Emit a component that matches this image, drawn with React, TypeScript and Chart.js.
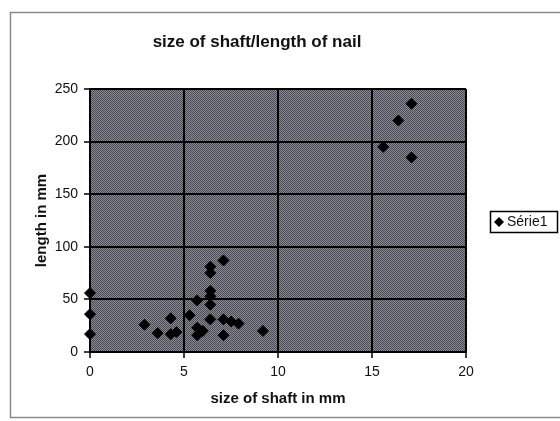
import { useEffect, useRef } from "react";
import { Chart, registerables } from "chart.js";

Chart.register(...registerables);

// Shaft diameter (mm) and nail length (mm) for each measured nail
const shaftSize = [0, 0, 0, 2.9, 3.6, 4.3, 4.3, 4.6, 5.3, 5.7, 5.7, 5.7, 6.0, 6.4, 6.4, 6.4, 6.4, 6.4, 6.4, 7.1, 7.1, 7.1, 7.5, 7.9, 9.2, 15.6, 16.4, 17.1, 17.1];
const nailLength = [56, 36, 17, 26, 18, 32, 17, 19, 35, 49, 23, 16, 20, 81, 75, 58, 53, 45, 31, 87, 31, 16, 29, 27, 20, 195, 220, 236, 185];

const seriesName = "Série1";
const chartTitle = "size of shaft/length of nail";
const xTitle = "size of shaft in mm";
const yTitle = "length in mm";

const FONT = '"Liberation Sans", Arial, Helvetica, sans-serif';

function ditherPattern(ctx: CanvasRenderingContext2D) {
  const tile = document.createElement("canvas");
  tile.width = 2;
  tile.height = 2;
  const t = tile.getContext("2d")!;
  t.fillStyle = "rgb(138,138,150)";
  t.fillRect(0, 0, 2, 2);
  t.fillStyle = "rgb(74,74,84)";
  t.fillRect(0, 0, 1, 1);
  t.fillRect(1, 1, 1, 1);
  return ctx.createPattern(tile, "repeat")!;
}

const decor = {
  id: "decor",
  beforeDraw(chart: any) {
    const { ctx, chartArea: a } = chart;
    ctx.save();
    ctx.fillStyle = "#ffffff";
    ctx.fillRect(0, 0, chart.width, chart.height);
    ctx.fillStyle = ditherPattern(ctx);
    ctx.fillRect(a.left, a.top, a.right - a.left, a.bottom - a.top);
    ctx.restore();
  },
  afterDraw(chart: any) {
    const { ctx } = chart;
    ctx.save();
    // outer frame
    ctx.strokeStyle = "#8a8a8a";
    ctx.lineWidth = 1.5;
    ctx.strokeRect(10.5, 12.5, 600, 405);

    // title
    ctx.fillStyle = "#111";
    ctx.font = `bold 17px ${FONT}`;
    ctx.textAlign = "center";
    ctx.textBaseline = "middle";
    ctx.fillText(chartTitle, 257, 42);

    // legend
    ctx.strokeStyle = "#000";
    ctx.lineWidth = 1.5;
    ctx.strokeRect(490.5, 211.5, 67, 21);
    ctx.fillStyle = "#000";
    ctx.beginPath();
    ctx.moveTo(499, 217);
    ctx.lineTo(504, 222);
    ctx.lineTo(499, 227);
    ctx.lineTo(494, 222);
    ctx.closePath();
    ctx.fill();
    ctx.fillStyle = "#111";
    ctx.font = `14px ${FONT}`;
    ctx.textAlign = "left";
    ctx.fillText(seriesName, 507, 222.5);
    ctx.restore();
  },
};

export default function App() {
  const ref = useRef<HTMLCanvasElement | null>(null);

  useEffect(() => {
    const canvas = ref.current;
    if (!canvas) return;
    const points = shaftSize.map((x, i) => ({ x, y: nailLength[i] }));
    const tickFont = { size: 14, family: FONT };
    const titleFont = { size: 15, weight: "bold" as const, family: FONT };
    const chart = new Chart(canvas, {
      type: "scatter",
      data: {
        datasets: [
          {
            label: seriesName,
            data: points,
            pointStyle: "rectRot",
            pointRadius: 5.5,
            pointHoverRadius: 5.5,
            backgroundColor: "#000",
            borderColor: "#000",
            borderWidth: 1,
            clip: false,
          },
        ],
      },
      options: {
        animation: false,
        responsive: true,
        maintainAspectRatio: false,
        layout: { padding: { left: 0, top: 89, right: 94, bottom: 0 } },
        plugins: {
          legend: { display: false },
          tooltip: { enabled: false },
          title: { display: false },
        },
        scales: {
          x: {
            type: "linear",
            min: 0,
            max: 20,
            ticks: { stepSize: 5, color: "#111", font: tickFont, padding: 6 },
            grid: { color: "#000", lineWidth: 2, tickLength: 6, tickColor: "#000", tickWidth: 1.5 },
            border: { color: "#000", width: 2 },
            title: { display: true, text: xTitle, color: "#111", font: titleFont, padding: { top: 0, bottom: 13 } },
            afterFit: (s: any) => {
              s.height = 69;
            },
          },
          y: {
            type: "linear",
            min: 0,
            max: 250,
            ticks: { stepSize: 50, color: "#111", font: tickFont, padding: 6 },
            grid: { color: "#000", lineWidth: 2, tickLength: 6, tickColor: "#000", tickWidth: 1.5 },
            border: { color: "#000", width: 2 },
            title: { display: true, text: yTitle, color: "#111", font: titleFont, padding: { top: 33, bottom: 0 } },
            afterFit: (s: any) => {
              s.width = 90;
            },
          },
        },
      },
      plugins: [decor],
    });
    return () => chart.destroy();
  }, []);

  return (
    <div style={{ position: "fixed", left: 0, top: 0, width: 560, height: 421, background: "#fff" }}>
      <canvas ref={ref} />
    </div>
  );
}
